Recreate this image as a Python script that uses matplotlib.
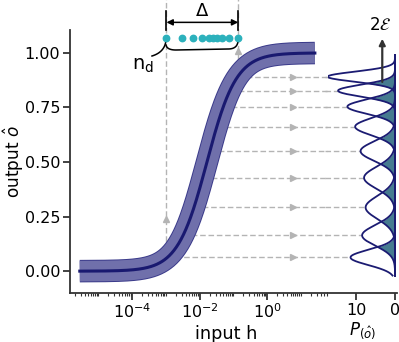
import numpy as np
import matplotlib
matplotlib.use("Agg")
import matplotlib.pyplot as plt
import matplotlib.patheffects as pe
from matplotlib.ticker import LogLocator, FormatStrFormatter, NullFormatter

# response curve o(h) = h^n / (h^n + K^n)
K = 10 ** -1.78
n_hill = 1.0
h_range = (10 ** -5.55, 10 ** 1.42)

# discretised inputs (dots, log10 h)
dots_logh = [-2.979, -2.513, -2.187, -1.920, -1.724, -1.605, -1.475, -1.326, -1.131, -0.852]
# output levels with their distributions (peak height of P(o))
levels = [0.891, 0.827, 0.754, 0.662, 0.550, 0.428, 0.292, 0.164, 0.063]
peaks = [17.4, 14.7, 12.3, 10.3, 8.9, 8.0, 7.6, 8.5, 11.5]

navy = "#1b1b72"
grey = "#b4b4b4"
spine_c = "#333333"


def hill(h):
    return h ** n_hill / (h ** n_hill + K ** n_hill)


def hill_inv(o):
    return K * (o / (1 - o)) ** (1 / n_hill)


plt.rcParams["font.size"] = 11.5
fig = plt.figure(figsize=(3.99, 3.42), dpi=100)
W, H = 399, 342
ax = fig.add_axes([70 / W, 1 - 293 / H, 257 / W, 263 / H])
axp = fig.add_axes([328 / W, 1 - 293 / H, 69 / W, 263 / H])

ylim = (-0.1, 1.105)
xlim = (10 ** -5.84, 10 ** 1.78)

# sigmoid with thick band
h = np.logspace(np.log10(h_range[0]), np.log10(h_range[1]), 400)
o = hill(h)
ax.plot(h, o, color="#7070ab", lw=14.8, solid_capstyle="butt",
        path_effects=[pe.Stroke(linewidth=16.2, foreground="#3a3a8a"), pe.Normal()], zorder=2)
ax.plot(h, o, color="#191970", lw=2.2, zorder=3)

# dashed guides from curve to distributions
for lev, pk in zip(levels, peaks):
    hi = hill_inv(lev)
    ax.plot([hi, xlim[1]], [lev, lev], color=grey, lw=1, dashes=(4, 2), clip_on=False, zorder=1)
    ax.plot(10 ** 0.77, lev, marker=">", ms=4, color=grey, mec=grey, zorder=1)
    axp.plot([18, pk], [lev, lev], color=grey, lw=1, dashes=(4, 2), clip_on=False, zorder=1)

# vertical dashed guides at the ends of the input range
h_lo, h_hi = 10 ** dots_logh[0], 10 ** dots_logh[-1]
for hv, ya in [(h_lo, 0.24), (h_hi, 1.01)]:
    ax.plot([hv, hv], [hill(hv), 1.3], color=grey, lw=1, dashes=(4, 2), clip_on=False, zorder=1)
    ax.plot(hv, ya, marker="^", ms=4, color=grey, mec=grey, clip_on=False, zorder=1)

# dots
ax.plot(10 ** np.array(dots_logh), np.full(len(dots_logh), 1.069), "o", ms=4.6,
        color="#2cb1bc", clip_on=False, zorder=4)

# Delta annotation
for hv in (h_lo, h_hi):
    ax.plot([hv, hv], [1.105, 1.19], color="black", lw=1.2, clip_on=False)
ax.annotate("", xy=(h_lo, 1.14), xytext=(h_hi, 1.14),
            arrowprops=dict(arrowstyle="<|-|>", color="black", lw=1.1, shrinkA=0, shrinkB=0,
                            mutation_scale=9), annotation_clip=False)
ax.text(np.sqrt(h_lo * h_hi), 1.168, "Δ", ha="center", va="baseline", fontsize=13)

# n_d bracket (in axes fraction coords)
def px(x, y):
    return (x - 70) / 257, (293 - y) / 263


def bez(p0, p1, p2, num=30):
    t = np.linspace(0, 1, num)[:, None]
    p0, p1, p2 = map(np.array, (p0, p1, p2))
    return (1 - t) ** 2 * p0 + 2 * t * (1 - t) * p1 + t ** 2 * p2


tail = bez(px(152, 56), px(165, 52), px(166, 40))
br = np.vstack([bez(px(166, 45), px(167, 50), px(176, 50)),
                bez(px(228, 49), px(238, 49), px(238, 40))])
for seg in (tail, br):
    ax.plot(seg[:, 0], seg[:, 1], color="black", lw=1.1, transform=ax.transAxes, clip_on=False)
ax.text(px(143, 66)[0], px(143, 66)[1], r"n$_{\rm d}$", transform=ax.transAxes,
        ha="center", va="center", fontsize=14)

ax.set_xscale("log")
ax.set_xlim(*xlim)
ax.set_ylim(*ylim)
ax.set_xticks([1e-4, 1e-2, 1e0])
ax.xaxis.set_minor_locator(LogLocator(base=10, subs=np.arange(1, 10), numticks=60))
ax.xaxis.set_minor_formatter(NullFormatter())
ax.set_yticks([0, 0.25, 0.5, 0.75, 1.0])
ax.yaxis.set_major_formatter(FormatStrFormatter("%.2f"))
ax.set_xlabel("input h", fontsize=12.7)
ax.xaxis.set_label_coords((226 - 70) / 257, -(339 - 293) / 263)
ax.xaxis.label.set_va("baseline")
ax.set_ylabel(r"output $\hat{o}$", fontsize=12.2)
ax.yaxis.set_label_coords(-(70 - 26) / 257, 0.5)
for s in ("top", "right"):
    ax.spines[s].set_visible(False)
for s in ("left", "bottom"):
    ax.spines[s].set_color(spine_c)
    ax.spines[s].set_linewidth(1.3)
ax.tick_params(which="major", length=5, width=1.3, color=spine_c, pad=2)
ax.tick_params(which="minor", length=2.2, width=0.8, color=spine_c)

# distributions panel
og = np.linspace(-0.02, 0.99, 600)
gs = []
for lev, pk in zip(levels, peaks):
    sig = 1 / (pk * np.sqrt(2 * np.pi))
    gs.append(pk * np.exp(-0.5 * ((og - lev) / sig) ** 2))
for a, b in zip(gs[:-1], gs[1:]):
    axp.fill_betweenx(og, 0, np.minimum(a, b), color="#467b90", lw=0, zorder=1)
for g in gs:
    axp.plot(g, og, color=navy, lw=1.3, zorder=2)

axp.annotate("", xy=(3.3, 1.065), xytext=(3.3, 0.867),
             arrowprops=dict(arrowstyle="-|>", color="#333333", lw=1.6, shrinkA=0, shrinkB=0,
                             mutation_scale=9), annotation_clip=False)
axp.text(3.7, 1.105, r"2$\mathcal{E}$", ha="center", va="baseline", fontsize=12)

axp.set_xlim(17.3, -0.5)
axp.set_ylim(*ylim)
axp.set_xticks([10, 0])
axp.set_yticks([])
axp.set_xlabel(r"$P_{(\hat{o})}$", fontsize=12)
axp.xaxis.set_label_coords((363 - 328) / 69, -(335 - 293) / 263)
axp.xaxis.label.set_va("baseline")
for s in ("top", "right", "left"):
    axp.spines[s].set_visible(False)
axp.spines["bottom"].set_color(spine_c)
axp.spines["bottom"].set_linewidth(1.3)
axp.tick_params(which="major", length=5, width=1.3, color=spine_c, pad=2)

fig.savefig("out.png", dpi=100)
